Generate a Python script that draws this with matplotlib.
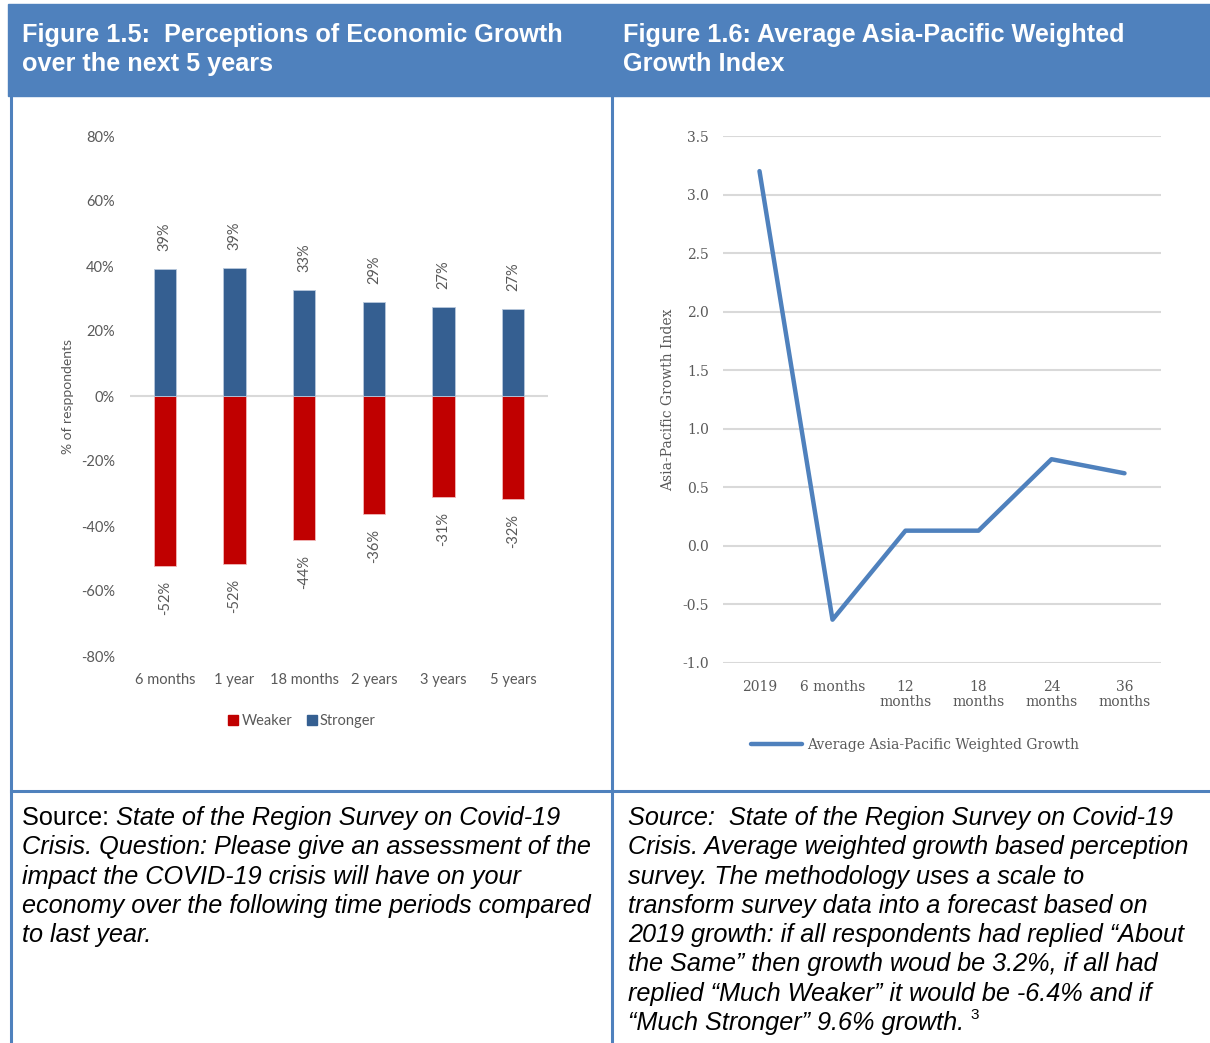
import matplotlib
matplotlib.use("Agg")
import matplotlib.pyplot as plt
from matplotlib.patches import Rectangle, Patch
from matplotlib.lines import Line2D

# left chart data
periods = ["6 months", "1 year", "18 months", "2 years", "3 years", "5 years"]
weaker = [-52.3, -51.7, -44.4, -36.4, -31.2, -31.8]
stronger = [39.1, 39.4, 32.6, 28.9, 27.4, 26.8]

# right chart data
horizons = ["2019", "6 months", "12\nmonths", "18\nmonths", "24\nmonths", "36\nmonths"]
growth_index = [3.2, -0.63, 0.13, 0.13, 0.74, 0.62]

W, H = 1210, 1043
BLUE = "#4F81BD"
GRAY = "#595959"

fig = plt.figure(figsize=(W / 100, H / 100), dpi=100)


def box(x0, y0, x1, y1):
    # pixel box -> figure fraction [left, bottom, width, height]
    return [x0 / W, 1 - y1 / H, (x1 - x0) / W, (y1 - y0) / H]


def fx(px):
    return px / W


def fy(py):
    return 1 - py / H


# frame: header band and cell borders
fig.patches.append(Rectangle((fx(8), fy(96)), fx(1210) - fx(8), fy(4) - fy(96),
                             transform=fig.transFigure, color=BLUE, zorder=0))
for x in (11, 612):
    fig.add_artist(Line2D([fx(x), fx(x)], [fy(96), fy(1043)], color=BLUE, lw=2.2))
fig.add_artist(Line2D([fx(11), fx(1210)], [fy(791), fy(791)], color=BLUE, lw=2.2))

hdr = dict(color="white", fontsize=18.2, fontweight="bold", family="Liberation Sans",
           va="center", ha="left", linespacing=1.25)
fig.text(fx(22), fy(49.5), "Figure 1.5:  Perceptions of Economic Growth\nover the next 5 years", **hdr)
fig.text(fx(623), fy(49.5), "Figure 1.6: Average Asia-Pacific Weighted\nGrowth Index", **hdr)

# ---- Figure 1.5 bars ----
ax1 = fig.add_axes(box(130, 136, 548, 656))
x = range(len(periods))
ax1.bar(x, weaker, width=0.32, color="#C00000", edgecolor="#F2B8B8", lw=0.6, label="Weaker")
ax1.bar(x, stronger, width=0.32, color="#355F91", edgecolor="#B8C8DC", lw=0.6, label="Stronger")
ax1.axhline(0, color="#D9D9D9", lw=1.5, zorder=0)
ax1.set_xlim(-0.5, 5.5)
ax1.set_ylim(-80, 80)
ax1.set_yticks(range(-80, 81, 20))
ax1.set_yticklabels([f"{v}%" for v in range(-80, 81, 20)])
ax1.set_xticks(list(x))
ax1.set_xticklabels(periods)
for s in ax1.spines.values():
    s.set_visible(False)
ax1.tick_params(length=0, colors=GRAY, labelsize=10.5)
ax1.tick_params(axis="y", pad=11)
ax1.tick_params(axis="x", pad=12)
for lab in ax1.get_xticklabels() + ax1.get_yticklabels():
    lab.set_family("Lato")
ax1.set_ylabel("% of resppondents", color=GRAY, fontsize=10, family="Lato", labelpad=5)
for i in x:
    ax1.text(i, stronger[i] + 5.5, f"{round(stronger[i])}%", rotation=90, ha="center",
             va="bottom", color=GRAY, fontsize=10.5, family="Lato")
    ax1.text(i, weaker[i] - 4.5, f"{round(weaker[i])}%", rotation=90, ha="center",
             va="top", color=GRAY, fontsize=10.5, family="Lato")
handles = [Patch(color="#C00000", label="Weaker"), Patch(color="#355F91", label="Stronger")]
fig.legend(handles=handles, loc="center", bbox_to_anchor=(fx(302), fy(721)), ncol=2,
           frameon=False, handlelength=0.7, handleheight=0.7, handletextpad=0.2,
           columnspacing=1.0, prop={"family": "Lato", "size": 10.5}, labelcolor=GRAY)

# ---- Figure 1.6 line ----
ax2 = fig.add_axes(box(723, 136, 1161, 663))
ax2.plot(range(len(horizons)), growth_index, color=BLUE, lw=3.2, solid_capstyle="round",
         solid_joinstyle="round", label="Average Asia-Pacific Weighted Growth")
ax2.set_xlim(-0.5, 5.5)
ax2.set_ylim(-1.0, 3.5)
yt = [-1.0 + 0.5 * k for k in range(10)]
ax2.set_yticks(yt)
ax2.set_yticklabels([f"{v:.1f}" for v in yt])
ax2.set_xticks(range(len(horizons)))
ax2.set_xticklabels(horizons, linespacing=1.15)
ax2.grid(axis="y", color="#D9D9D9", lw=1.5)
ax2.set_axisbelow(True)
for s in ax2.spines.values():
    s.set_visible(False)
ax2.tick_params(length=0, colors=GRAY, labelsize=10)
ax2.tick_params(axis="y", pad=10)
ax2.tick_params(axis="x", pad=12)
for lab in ax2.get_xticklabels() + ax2.get_yticklabels():
    lab.set_family("DejaVu Serif")
ax2.set_ylabel("Asia-Pacific Growth Index", color=GRAY, fontsize=10, family="DejaVu Serif",
               labelpad=5)
fig.legend(handles=ax2.get_lines(), loc="center", bbox_to_anchor=(fx(915), fy(745)),
           frameon=False, handlelength=3.7, handletextpad=0.4,
           prop={"family": "DejaVu Serif", "size": 10}, labelcolor=GRAY)

# ---- source notes ----
src = dict(fontsize=18.2, family="Liberation Sans", color="black", va="center", ha="left")
fig.canvas.draw()
r = fig.canvas.get_renderer()
t = fig.text(fx(22), fy(818), "Source: ", **src)
ext = t.get_window_extent(renderer=r)
left_lines = ["State of the Region Survey on Covid-19",
              "Crisis. Question: Please give an assessment of the",
              "impact the COVID-19 crisis will have on your",
              "economy over the following time periods compared",
              "to last year."]
fig.text(ext.x1 / W, fy(818), left_lines[0], style="italic", **src)
for k, line in enumerate(left_lines[1:], start=1):
    fig.text(fx(22), fy(818 + 29.3 * k), line, style="italic", **src)

right_lines = ["Source:  State of the Region Survey on Covid-19",
               "Crisis. Average weighted growth based perception",
               "survey. The methodology uses a scale to",
               "transform survey data into a forecast based on",
               "2019 growth: if all respondents had replied \u201cAbout",
               "the Same\u201d then growth woud be 3.2%, if all had",
               "replied \u201cMuch Weaker\u201d it would be -6.4% and if",
               "\u201cMuch Stronger\u201d 9.6% growth."]
for k, line in enumerate(right_lines):
    tt = fig.text(fx(628), fy(818 + 29.3 * k), line, style="italic", **src)
ext = tt.get_window_extent(renderer=r)
fig.text(ext.x1 / W + 0.005, fy(1015), "3", fontsize=11, family="Liberation Sans",
         va="center", ha="left")

fig.savefig("out.png", dpi=100)
